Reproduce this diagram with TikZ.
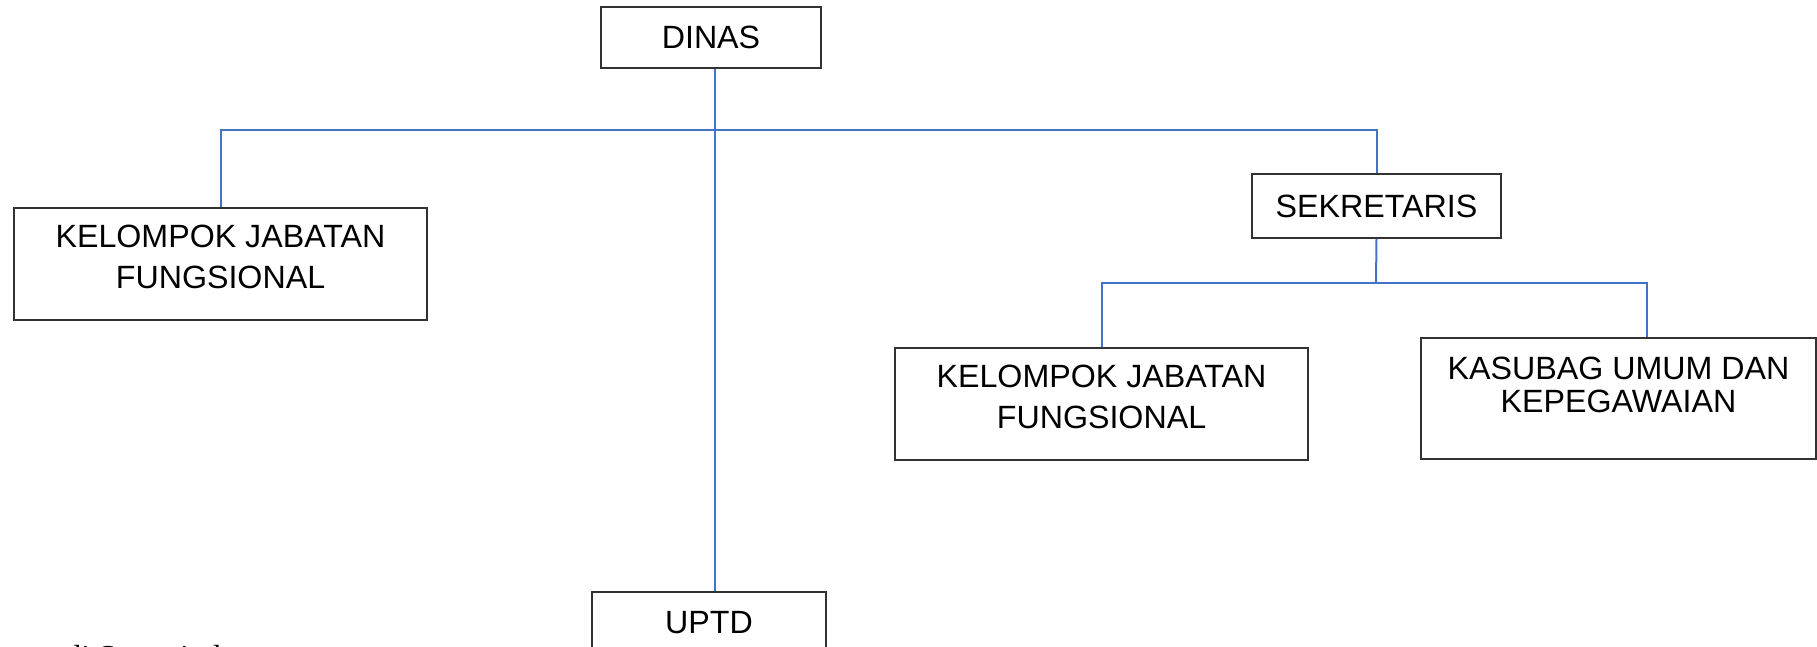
\documentclass[tikz,border=0pt]{standalone}
\usepackage{fontspec}
\setmainfont{Liberation Sans}
\newfontfamily\notefont{Liberation Serif}
\usetikzlibrary{positioning,calc}
\definecolor{LinkBlue}{RGB}{68,114,196}
\definecolor{BoxEdge}{RGB}{50,50,50}
\tikzset{
  link/.style={draw=LinkBlue,line width=1pt},
  orgbox/.style={draw=BoxEdge,line width=0.9pt,inner sep=0pt,align=center,
    font=\fontsize{16.1}{20.5}\selectfont},
  widebox/.style={orgbox,minimum width=206.5pt,minimum height=56pt},
  smallbox/.style={orgbox,minimum height=30.5pt}
}
\begin{document}
\begin{tikzpicture}[x=0.5pt,y=-0.5pt]
  \useasboundingbox (0,0) rectangle (1817,647);
  % top level
  \node[smallbox,minimum width=110pt] (dinas) at (711,37.5) {DINAS};
  \node[widebox,text depth=7pt] (kjfa) at (220.5,264) {KELOMPOK JABATAN\\FUNGSIONAL};
  \node[smallbox,minimum width=124.5pt,minimum height=32pt] (sekre) at (1376.5,206) {SEKRETARIS};
  \node[smallbox,minimum width=117pt] (uptd) at (709,622.5) {UPTD};
  % under sekretaris
  \node[widebox,text depth=7pt] (kjfb) at (1101.5,404) {KELOMPOK JABATAN\\FUNGSIONAL};
  \node[orgbox,minimum width=197.5pt,minimum height=60.5pt,text depth=14pt,
    font=\fontsize{16.1}{16.5}\selectfont] (kasubag) at (1618.5,398.5) {KASUBAG UMUM DAN\\KEPEGAWAIAN};
  \node[font=\notefont\fontsize{16}{19}\selectfont,anchor=north west,inner sep=0pt] (note) at (65,645) {di Samarinda};
  % connectors
  \coordinate (trunk) at (715,130);
  \coordinate (sbus) at (1376,283);
  \coordinate (kbus) at (1647,283);
  \draw[link] (dinas.south -| trunk) -- (uptd.north -| trunk);
  \draw[link] (kjfa.north) |- (trunk) -| (sekre.north);
  \draw[link] (sekre.south) -- (sbus);
  \draw[link] (kjfb.north) |- (kbus) -- (kasubag.north -| kbus);
\end{tikzpicture}
\end{document}
